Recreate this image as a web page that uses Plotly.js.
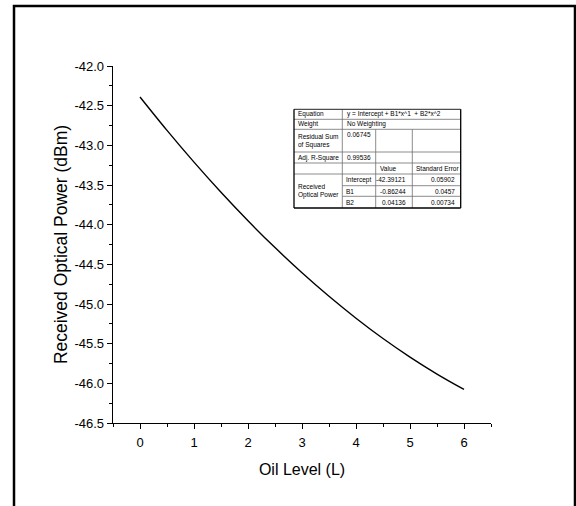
<!DOCTYPE html>
<html>
<head>
<meta charset="utf-8">
<script src="https://cdn.plot.ly/plotly-3.0.1.min.js"></script>
<style>html,body{margin:0;padding:0;background:#fff;}#chart{width:576px;height:506px;}</style>
</head>
<body>
<div id="chart"></div>
<script>
// ---- data ----
var oilLevel = [0, 0.5, 1, 1.5, 2, 2.5, 3, 3.5, 4, 4.5, 5, 5.5, 6];
var receivedPower = [-42.391, -42.812, -43.212, -43.592, -43.951, -44.289, -44.606, -44.903, -45.179, -45.435, -45.669, -45.883, -46.077];

var xTickVals = [0, 1, 2, 3, 4, 5, 6];
var xTickText = ["0", "1", "2", "3", "4", "5", "6"];
var yTickVals = [-46.5, -46.0, -45.5, -45.0, -44.5, -44.0, -43.5, -43.0, -42.5, -42.0];
var yTickText = ["-46.5", "-46.0", "-45.5", "-45.0", "-44.5", "-44.0", "-43.5", "-43.0", "-42.5", "-42.0"];

var fitEquation = "y = Intercept + B1*x^1  + B2*x^2";
var fitWeight = "No Weighting";
var residualSS = "0.06745";
var adjRSquare = "0.99536";
var seriesName = "Received<br>Optical Power";
var paramNames = ["Intercept", "B1", "B2"];
var paramValues = ["-42.39121", "-0.86244", "0.04136"];
var paramErrors = ["0.05902", "0.0457", "0.00734"];

// ---- layout geometry ----
var W = 576, H = 506, ML = 113, MR = 85, MT = 66, MB = 83;
var PW = W - ML - MR, PH = H - MT - MB;
function fx(px) { return (px - ML) / PW; }
function fy(py) { return (H - MB - py) / PH; }
var FONT = 'Arial, "Liberation Sans", sans-serif';

var shapes = [];
var annotations = [];
function hline(y, x0, x1, c, w) {
  shapes.push({type: 'line', xref: 'paper', yref: 'paper', x0: fx(x0), x1: fx(x1), y0: fy(y), y1: fy(y), line: {color: c, width: w}});
}
function vline(x, y0, y1, c, w) {
  shapes.push({type: 'line', xref: 'paper', yref: 'paper', x0: fx(x), x1: fx(x), y0: fy(y0), y1: fy(y1), line: {color: c, width: w}});
}
function txt(t, x, y, anchor, valign) {
  annotations.push({xref: 'paper', yref: 'paper', x: fx(x), y: fy(y), text: t, showarrow: false,
    xanchor: anchor, yanchor: valign || 'middle', align: 'left',
    font: {family: FONT, size: 6.5, color: '#000'}});
}

// outer frame (open at the bottom)
shapes.push({type: 'path', xref: 'paper', yref: 'paper',
  path: 'M ' + fx(14) + ' ' + fy(506) + ' L ' + fx(14) + ' ' + fy(6) + ' L ' + fx(575) + ' ' + fy(6) + ' L ' + fx(575) + ' ' + fy(506),
  line: {color: '#000', width: 2.5}});

// fit table
var TL = 294, TR = 460.7, C1 = 342.3, C2 = 375.7, C3 = 412.3;
var rows = [109.3, 119.3, 129.3, 152, 163, 174, 185.7, 196.3, 208];
var g = '#6e6e6e';
hline(rows[1], TL, TR, g, 0.8);
hline(rows[2], TL, TR, g, 0.8);
hline(rows[3], TL, TR, g, 0.8);
hline(rows[4], TL, TR, g, 0.8);
hline(rows[5], TL, TR, g, 0.8);
hline(rows[6], C1, TR, g, 0.8);
hline(rows[7], C1, TR, g, 0.8);
vline(C1, rows[0], rows[8], g, 0.8);
vline(C2, rows[2], rows[8], g, 0.8);
vline(C3, rows[2], rows[8], g, 0.8);
hline(rows[0], TL, TR, '#222', 1);
hline(rows[8], TL, TR, '#000', 1.3);
vline(TL, rows[0], rows[8], '#000', 1.3);
vline(TR, rows[0], rows[8], '#000', 1.3);

txt('Equation', TL + 2, (rows[0] + rows[1]) / 2, 'left');
txt(fitEquation, C1 + 3, (rows[0] + rows[1]) / 2, 'left');
txt('Weight', TL + 2, (rows[1] + rows[2]) / 2, 'left');
txt(fitWeight, C1 + 3, (rows[1] + rows[2]) / 2, 'left');
txt('Residual Sum<br>of Squares', TL + 2, (rows[2] + rows[3]) / 2, 'left');
txt(residualSS, C2 - 3, rows[2] + 5.5, 'right');
txt('Adj. R-Square', TL + 2, (rows[3] + rows[4]) / 2, 'left');
txt(adjRSquare, C2 - 3, (rows[3] + rows[4]) / 2, 'right');
txt('Value', C2 + 2, (rows[4] + rows[5]) / 2, 'left');
txt('Standard Error', C3 + 2, (rows[4] + rows[5]) / 2, 'left');
txt(seriesName, TL + 2, (rows[5] + rows[8]) / 2, 'left');
for (var i = 0; i < 3; i++) {
  var cy = (rows[5 + i] + rows[6 + i]) / 2;
  txt(paramNames[i], C1 + 2, cy, 'left');
  txt(paramValues[i], C3 - 4, cy, 'right');
  txt(paramErrors[i], TR - 4, cy, 'right');
}

var trace = {
  x: oilLevel, y: receivedPower, type: 'scatter', mode: 'lines',
  line: {color: '#000', width: 1.4, shape: 'spline'}, hoverinfo: 'skip'
};

var axisFont = {family: FONT, size: 13, color: '#000'};
var layout = {
  width: W, height: H,
  margin: {l: ML, r: MR, t: MT, b: MB, pad: 0},
  paper_bgcolor: '#fff', plot_bgcolor: '#fff',
  showlegend: false,
  xaxis: {
    range: [-0.5, 6.5], tickmode: 'array', tickvals: xTickVals, ticktext: xTickText,
    showgrid: false, zeroline: false, showline: true, linecolor: '#000', linewidth: 1.3,
    ticks: 'outside', ticklen: 5, tickwidth: 1, tickcolor: '#000', tickfont: axisFont,
    ticklabelstandoff: 2,
    minor: {tickmode: 'linear', tick0: 0, dtick: 0.5, ticks: 'outside', ticklen: 3, tickwidth: 1, tickcolor: '#000', showgrid: false},
    title: {text: 'Oil Level (L)', font: {family: FONT, size: 16, color: '#000'}, standoff: 15}
  },
  yaxis: {
    range: [-46.5, -42.0], tickmode: 'array', tickvals: yTickVals, ticktext: yTickText,
    showgrid: false, zeroline: false, showline: true, linecolor: '#000', linewidth: 1.3,
    ticks: 'outside', ticklen: 5, tickwidth: 1, tickcolor: '#000', tickfont: axisFont,
    minor: {tickmode: 'linear', tick0: 0, dtick: 0.25, ticks: 'outside', ticklen: 3, tickwidth: 1, tickcolor: '#000', showgrid: false},
    title: {text: 'Received Optical Power (dBm)', font: {family: FONT, size: 17.5, color: '#000'}, standoff: 2}
  },
  shapes: shapes,
  annotations: annotations
};

Plotly.newPlot('chart', [trace], layout, {displayModeBar: false, staticPlot: true});
</script>
</body>
</html>
